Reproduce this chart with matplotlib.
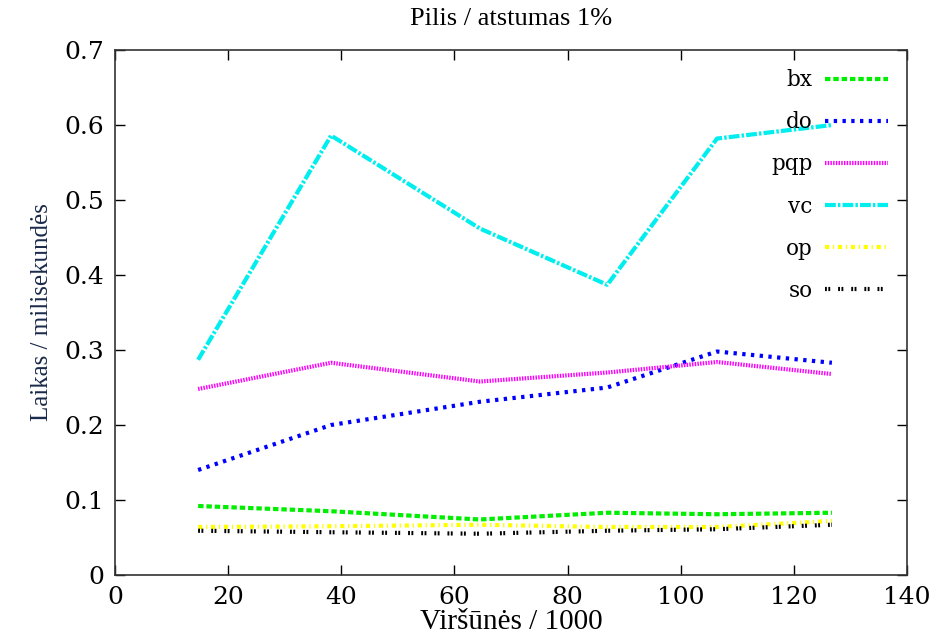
import matplotlib
matplotlib.use("Agg")
from matplotlib import pyplot as plt

# x = vertices / 1000
x = [14.7, 38.2, 64.5, 87.0, 106.4, 126.7]

bx = [0.092, 0.085, 0.074, 0.083, 0.081, 0.083]
do = [0.140, 0.200, 0.231, 0.250, 0.298, 0.283]
pqp = [0.248, 0.283, 0.258, 0.270, 0.284, 0.268]
vc = [0.287, 0.586, 0.462, 0.387, 0.582, 0.600]
op = [0.064, 0.065, 0.067, 0.064, 0.064, 0.072]
so = [0.059, 0.057, 0.055, 0.059, 0.061, 0.067]

labels = ["bx", "do", "pqp", "vc", "op", "so"]
series = [bx, do, pqp, vc, op, so]
colors = ["#00ee00", "#0000ff", "#ff00ff", "#00eeee", "#ffff00", "#000000"]
dashes = [(1.3, 0.7), (0.8, 1.3), (0.35, 0.3), (2.6, 0.5, 0.6, 0.5),
          (1.0, 0.9, 0.3, 0.9), (0.45, 0.35, 0.45, 1.9)]

fig = plt.figure(figsize=(9.42, 6.42), dpi=100)
ax = fig.add_axes([0.122, 0.1044, 0.841, 0.8176])

for ys, lab, c, d in zip(series, labels, colors, dashes):
    ax.plot(x, ys, color=c, lw=3.0, dashes=d, label=lab)

ax.set_xlim(0, 140)
ax.set_ylim(0, 0.7)
ax.set_xticks(range(0, 141, 20))
ax.set_yticks([0, 0.1, 0.2, 0.3, 0.4, 0.5, 0.6, 0.7])
ax.set_yticklabels(["0", "0.1", "0.2", "0.3", "0.4", "0.5", "0.6", "0.7"])
ax.tick_params(direction="in", top=True, right=True, length=7, width=1,
               labelsize=18, pad=8)
for lbl in ax.get_xticklabels() + ax.get_yticklabels():
    lbl.set_fontfamily("DejaVu Serif")
for s in ax.spines.values():
    s.set_linewidth(1.2)
    s.set_color("#333333")

ax.set_title("Pilis / atstumas 1%", fontsize=19, family="Liberation Serif", pad=18)
ax.set_xlabel("Viršūnės / 1000", fontsize=21, family="Liberation Serif", labelpad=0)
ax.set_ylabel("Laikas / milisekundės", fontsize=18, family="Liberation Serif",
              color="#1a2a4a", labelpad=8)

leg = ax.legend(loc="upper right", markerfirst=False, frameon=False,
                prop={"family": "DejaVu Serif", "size": 15.5},
                handlelength=2.9, labelspacing=0.93, borderaxespad=0.6,
                handletextpad=0.6, borderpad=0.3)

fig.savefig("out.png", dpi=100)
